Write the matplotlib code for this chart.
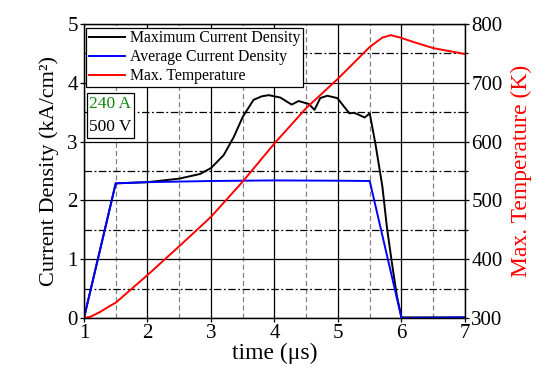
import matplotlib
matplotlib.use("Agg")
import matplotlib.pyplot as plt
from matplotlib.lines import Line2D
from matplotlib.patches import Rectangle
from matplotlib.ticker import MultipleLocator

plt.rcParams["font.family"] = ["Liberation Serif", "DejaVu Serif"]

# maximum current density (kA/cm^2)
t_max = [1.0, 1.5, 2.0, 2.5, 2.83, 3.0, 3.2, 3.36, 3.5, 3.67, 3.8, 3.91, 4.09,
         4.27, 4.38, 4.54, 4.63, 4.72, 4.83, 4.99, 5.18, 5.25, 5.30, 5.42, 5.50,
         5.59, 5.70, 5.77, 5.85, 5.93, 6.0, 7.0]
j_max = [0.0, 2.29, 2.31, 2.37, 2.45, 2.55, 2.77, 3.08, 3.42, 3.71, 3.77, 3.79, 3.75,
         3.63, 3.69, 3.64, 3.54, 3.74, 3.78, 3.74, 3.48, 3.49, 3.47, 3.41, 3.48,
         2.96, 2.23, 1.55, 0.93, 0.36, 0.01, 0.01]

# average current density (kA/cm^2)
t_avg = [1.0, 1.5, 2.0, 3.0, 4.0, 5.0, 5.5, 6.0, 7.0]
j_avg = [0.0, 2.29, 2.31, 2.33, 2.34, 2.335, 2.33, 0.0, 0.01]

# max temperature (K)
t_temp = [1.0, 1.1, 1.25, 1.4, 1.5, 2.0, 2.5, 2.83, 3.0, 3.5, 4.0, 4.5, 5.0, 5.5,
          5.7, 5.83, 5.98, 6.2, 6.5, 6.75, 7.0]
temp = [300, 302, 310, 320, 326, 373, 422, 455, 472, 532, 597, 657, 707, 761,
        777, 781, 777, 769, 759, 754, 749]

labels = ["Maximum Current Density", "Average Current Density", "Max. Temperature"]

fig = plt.figure(figsize=(5.58, 3.8), dpi=100)
ax = fig.add_axes([0.1505, 0.1632, 0.6828, 0.7736])
ax2 = ax.twinx()

ax.plot(t_max, j_max, color="black", lw=1.4)
ax.plot(t_avg, j_avg, color="#0000ff", lw=1.4)
ax2.plot(t_temp, temp, color="red", lw=1.4)

ax.set_xlim(1, 7)
ax.set_ylim(0, 5)
ax2.set_ylim(300, 800)

ax.xaxis.set_major_locator(MultipleLocator(1))
ax.xaxis.set_minor_locator(MultipleLocator(0.5))
ax.yaxis.set_major_locator(MultipleLocator(1))
ax.yaxis.set_minor_locator(MultipleLocator(0.5))
ax2.yaxis.set_major_locator(MultipleLocator(100))
ax2.yaxis.set_minor_locator(MultipleLocator(50))

ax.set_axisbelow(True)
ax.xaxis.grid(True, which="major", color="black", lw=0.9, ls="-")
ax.xaxis.grid(True, which="minor", color="#808080", lw=0.9, ls=(0, (4, 2.5)))
ax.yaxis.grid(True, which="major", color="black", lw=0.9, ls="-")
ax.yaxis.grid(True, which="minor", color="black", lw=0.9, ls=(0, (6, 2, 1.5, 2)))

ax.tick_params(which="major", direction="out", length=3, width=0.9, labelsize=15, pad=1.5)
ax.tick_params(which="minor", length=0)
ax2.tick_params(which="major", direction="out", length=3, width=0.9, labelsize=15, pad=1.5)
ax2.tick_params(which="minor", direction="out", length=2, width=0.9)
for a in (ax, ax2):
    for s in a.spines.values():
        s.set_linewidth(0.9)

ax.set_xlabel("time (\u03bcs)", fontsize=17, labelpad=0)
ax.set_ylabel("Current Density (kA/cm\u00b2)", fontsize=16, labelpad=6)
ax2.set_ylabel("Max. Temperature (K)", fontsize=17, color="red", labelpad=6)

handles = [Line2D([], [], color=c, lw=1.4) for c in ("black", "#0000ff", "red")]
leg = ax2.legend(handles, labels, loc="upper left", bbox_to_anchor=(0.005, 0.988),
                 borderaxespad=0, fontsize=11.3, frameon=True, fancybox=False,
                 framealpha=1, edgecolor="black", handlelength=2.3,
                 handletextpad=0.3, labelspacing=0.18, borderpad=0.18)
leg.get_frame().set_linewidth(0.9)

ax2.add_patch(Rectangle((0.007, 0.611), 0.124, 0.153, transform=ax2.transAxes,
                        facecolor="white", edgecolor="black", lw=0.9, zorder=5))
ax2.text(0.013, 0.728, "240 A", transform=ax2.transAxes, color="#118811",
         fontsize=12.5, va="center", ha="left", zorder=6)
ax2.text(0.013, 0.650, "500 V", transform=ax2.transAxes, color="black",
         fontsize=12.5, va="center", ha="left", zorder=6)

fig.savefig("out.png", dpi=100)
